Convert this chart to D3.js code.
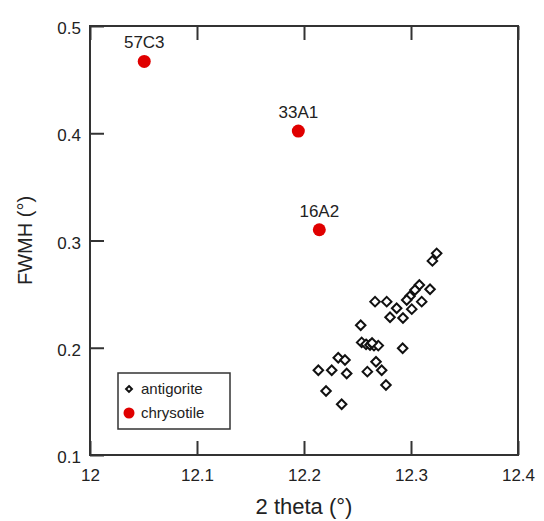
<!DOCTYPE html>
<html><head><meta charset="utf-8">
<script src="https://cdn.jsdelivr.net/npm/d3@7"></script>
<style>body{margin:0;background:#fff}svg{display:block}text{font-family:"Liberation Sans",Arial,sans-serif;fill:#222}</style>
</head><body>
<script>
const xTicks = [12, 12.1, 12.2, 12.3, 12.4];
const yTicks = [0.1, 0.2, 0.3, 0.4, 0.5];
const xTickLabels = ["12", "12.1", "12.2", "12.3", "12.4"];
const yTickLabels = ["0.1", "0.2", "0.3", "0.4", "0.5"];
const antigoriteX = [12.324,12.320,12.3078,12.3178,12.299,12.310,12.3007,12.296,12.2664,12.2773,12.2866,12.2804,12.2925,12.3037,12.253,
  12.2539,12.258,12.2617,12.2654,12.2694,12.2636,12.2922,12.232,12.2383,12.2134,12.2259,12.2399,12.2673,12.2592,12.2726,12.2766,12.2206,12.2352];
const antigoriteY = [0.288,0.281,0.2585,0.2545,0.248,0.243,0.236,0.2445,0.243,0.243,0.2368,0.2284,0.2277,0.2538,0.221,
  0.205,0.2032,0.2026,0.202,0.202,0.2044,0.1995,0.1907,0.1886,0.179,0.179,0.176,0.187,0.1777,0.179,0.1653,0.1597,0.1473];
const chrysotileNames = ["57C3", "33A1", "16A2"];
const chrysotileX = [12.0507, 12.1947, 12.2143];
const chrysotileY = [0.467, 0.402, 0.310];
const legendLabels = ["antigorite", "chrysotile"];

const W = 544, H = 521;
const m = {l: 90, r: 26, t: 26, b: 66};
const svg = d3.select("body").append("svg").attr("width", W).attr("height", H);
const x = d3.scaleLinear().domain([12, 12.4]).range([m.l, W - m.r]);
const y = d3.scaleLinear().domain([0.1, 0.5]).range([H - m.b, m.t]);
const ink = "#333";
const tl = 14;

// frame
const x0 = x(12), x1 = x(12.4), y0 = y(0.1), y1 = y(0.5);
svg.append("rect").attr("x", x0).attr("y", y1).attr("width", x1 - x0).attr("height", y0 - y1)
  .attr("fill", "none").attr("stroke", ink).attr("stroke-width", 2);

// axes with inward ticks (tick lines kept, styled explicitly)
const bx = svg.append("g").attr("transform", `translate(0,${y0})`)
  .call(d3.axisBottom(x).tickValues(xTicks).tickSizeInner(-tl).tickSizeOuter(0).tickPadding(14)
    .tickFormat((d, i) => xTickLabels[i]));
const tx = svg.append("g").attr("transform", `translate(0,${y1})`)
  .call(d3.axisTop(x).tickValues(xTicks).tickSizeInner(-tl).tickSizeOuter(0).tickFormat(() => ""));
const ly = svg.append("g").attr("transform", `translate(${x0},0)`)
  .call(d3.axisLeft(y).tickValues(yTicks).tickSizeInner(-tl).tickSizeOuter(0).tickPadding(9)
    .tickFormat((d, i) => yTickLabels[i]));
[bx, tx, ly].forEach(g => {
  g.select(".domain").attr("stroke", "none");
  g.selectAll(".tick line").attr("stroke", "#333333").style("stroke", "#333333").style("stroke-width", "2px").attr("opacity", 1);
  g.selectAll(".tick text").style("font-size", "17px").style("fill", "#222");
});
ly.selectAll(".tick text").attr("dy", "0.45em");

// axis titles
svg.append("text").attr("x", (x0 + x1) / 2).attr("y", 514).attr("text-anchor", "middle")
  .style("font-size", "22px").text("2 theta (°)");
svg.append("text").attr("transform", `translate(32,${(y0 + y1) / 2}) rotate(-90)`).attr("text-anchor", "middle")
  .style("font-size", "20px").text("FWMH (°)");

// antigorite diamonds
const diamond = d3.symbol().type(d3.symbolDiamond2).size(58);
svg.append("g").selectAll("path").data(antigoriteX.map((d, i) => [d, antigoriteY[i]])).join("path")
  .attr("d", diamond).attr("transform", d => `translate(${x(d[0])},${y(d[1])})`)
  .attr("fill", "#fff").attr("stroke", "#111").attr("stroke-width", 2);

// chrysotile
const ch = chrysotileX.map((d, i) => ({x: d, y: chrysotileY[i], n: chrysotileNames[i]}));
svg.append("g").selectAll("circle").data(ch).join("circle")
  .attr("cx", d => x(d.x)).attr("cy", d => y(d.y)).attr("r", 6.5).attr("fill", "#e00000");
svg.append("g").selectAll("text").data(ch).join("text")
  .attr("x", d => x(d.x)).attr("y", d => y(d.y) - 13).attr("text-anchor", "middle")
  .style("font-size", "17px").text(d => d.n);

// legend
const lg = svg.append("g");
lg.append("rect").attr("x", 118).attr("y", 373).attr("width", 112).attr("height", 56)
  .attr("fill", "#fff").attr("stroke", ink).attr("stroke-width", 1.5);
lg.append("path").attr("d", d3.symbol().type(d3.symbolDiamond2).size(22)).attr("transform", "translate(129,389)")
  .attr("fill", "#fff").attr("stroke", "#111").attr("stroke-width", 2);
lg.append("circle").attr("cx", 129).attr("cy", 413).attr("r", 5.5).attr("fill", "#e00000");
lg.selectAll("text").data(legendLabels).join("text").attr("x", 141).attr("y", (d, i) => 394 + i * 24)
  .style("font-size", "15px").text(d => d);
</script>
</body></html>
